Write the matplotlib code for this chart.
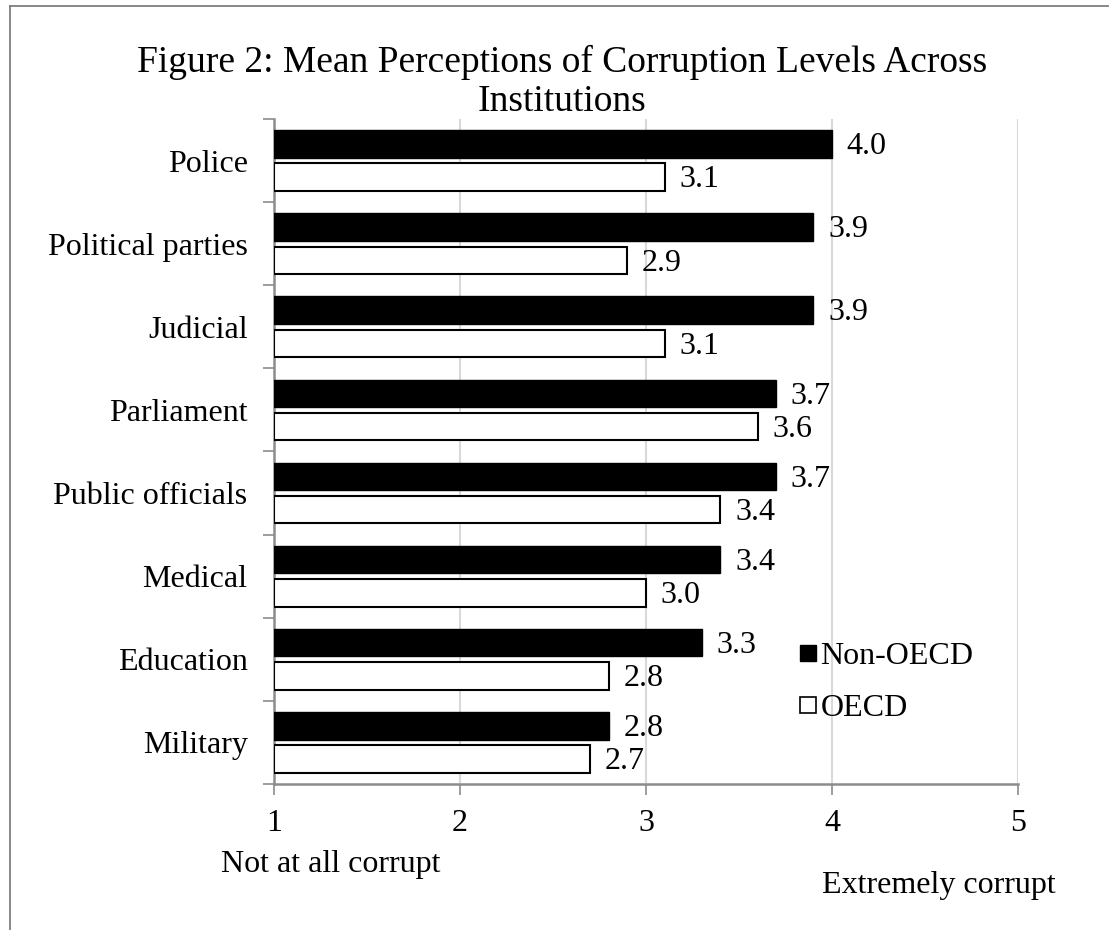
import numpy as np
import matplotlib
matplotlib.use("Agg")
import matplotlib.pyplot as plt
from matplotlib.lines import Line2D

plt.rcParams['font.family'] = ['Liberation Serif', 'DejaVu Serif']

# data, top to bottom as in the chart
institutions = ["Police", "Political parties", "Judicial", "Parliament",
                "Public officials", "Medical", "Education", "Military"]
non_oecd = [4.0, 3.9, 3.9, 3.7, 3.7, 3.4, 3.3, 2.8]
oecd = [3.1, 2.9, 3.1, 3.6, 3.4, 3.0, 2.8, 2.7]
x_ticks = [1, 2, 3, 4, 5]

W, H = 1109, 930
fig = plt.figure(figsize=(W / 100, H / 100), dpi=100)
ax = fig.add_axes([274 / W, 1 - 784 / H, (1018 - 274) / W, (784 - 119) / H])

y = np.arange(len(institutions))
bh = 0.33
ax.barh(y - 0.2, np.array(non_oecd) - 1, left=1, height=bh,
        color='black', edgecolor='black', linewidth=1, zorder=3)
ax.barh(y + 0.2, np.array(oecd) - 1, left=1, height=bh,
        color='white', edgecolor='black', linewidth=1.5, zorder=3)

for yi, v in zip(y, non_oecd):
    ax.annotate(f"{v:.1f}", (v, yi - 0.2), xytext=(10.5, -2), textcoords='offset points',
                va='center', ha='left', fontsize=23)
for yi, v in zip(y, oecd):
    ax.annotate(f"{v:.1f}", (v, yi + 0.2), xytext=(10.5, -2), textcoords='offset points',
                va='center', ha='left', fontsize=23)

ax.set_xlim(1, 5)
ax.set_ylim(len(institutions) - 0.5, -0.5)
ax.set_xticks(x_ticks)
ax.set_xticklabels([str(t) for t in x_ticks], fontsize=23)
ax.tick_params(axis='x', length=8, width=1.2, color='#8c8c8c', pad=10)

# category boundaries as major ticks, names on minor ticks
ax.set_yticks(np.arange(-0.5, len(institutions), 1.0))
ax.set_yticklabels([])
ax.set_yticks(y, minor=True)
ax.set_yticklabels(institutions, minor=True, fontsize=23)
ax.tick_params(axis='y', which='major', length=8, width=1.2, color='#8c8c8c')
ax.tick_params(axis='y', which='minor', length=0, pad=19)

ax.grid(axis='x', color='#d9d9d9', linewidth=1.5, zorder=0)
ax.set_axisbelow(True)
for s in ['top', 'right']:
    ax.spines[s].set_visible(False)
for s in ['left', 'bottom']:
    ax.spines[s].set_color('#8c8c8c')
    ax.spines[s].set_linewidth(1.8)

handles = [Line2D([], [], marker='s', ls='', markersize=12, markerfacecolor='black',
                  markeredgecolor='black'),
           Line2D([], [], marker='s', ls='', markersize=11, markerfacecolor='white',
                  markeredgecolor='black', markeredgewidth=1.2)]
fig.legend(handles, ["Non-OECD", "OECD"], loc='upper left',
           bbox_to_anchor=(782 / W, 1 - 626 / H), frameon=False, fontsize=23,
           handlelength=0.6, handletextpad=0.1, labelspacing=0.7, borderpad=0)

fig.text(562 / W, 1 - 82 / H,
         "Figure 2: Mean Perceptions of Corruption Levels Across\nInstitutions",
         ha='center', va='center', fontsize=27, linespacing=1.2)
fig.text(331 / W, 1 - 864 / H, "Not at all corrupt", ha='center', va='center', fontsize=23)
fig.text(939 / W, 1 - 885 / H, "Extremely corrupt", ha='center', va='center', fontsize=23)

# outer frame (only top and left edges fall inside the picture)
fig.add_artist(Line2D([10 / W, 10 / W], [0, 1 - 6 / H], transform=fig.transFigure,
                      color='#7f7f7f', linewidth=1.3))
fig.add_artist(Line2D([10 / W, 1108 / W], [1 - 6 / H, 1 - 6 / H], transform=fig.transFigure,
                      color='#7f7f7f', linewidth=1.3))

fig.savefig("out.png", dpi=100)
